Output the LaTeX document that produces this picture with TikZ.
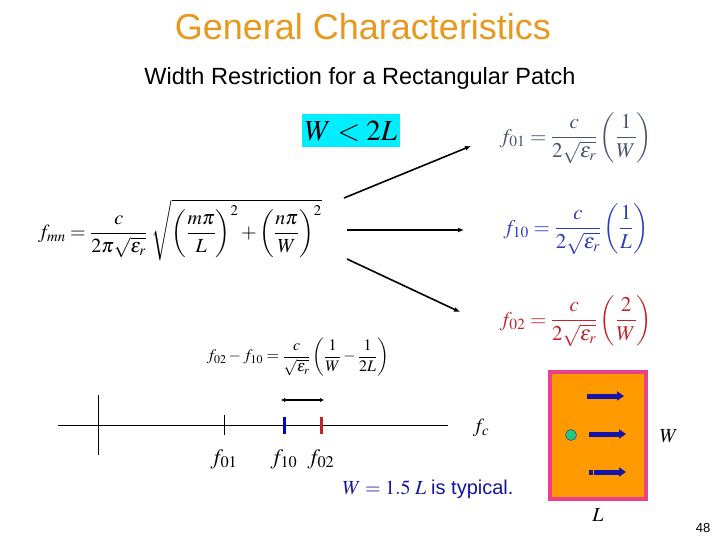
\documentclass[tikz,border=0pt]{standalone}
\usepackage{amsmath}
\usepackage{mathptmx}
\usepackage{fontspec}
\setmainfont{Liberation Serif}
\setsansfont{Liberation Sans}
\usetikzlibrary{arrows.meta}
\definecolor{titleorange}{RGB}{232,152,28}
\definecolor{condcyan}{RGB}{0,238,255}
\definecolor{fzo}{RGB}{70,82,110}
\definecolor{fonz}{RGB}{40,60,190}
\definecolor{fzt}{RGB}{195,35,40}
\definecolor{patchorange}{RGB}{255,153,0}
\definecolor{patchpink}{RGB}{236,64,138}
\definecolor{arrowblue}{RGB}{20,20,170}
\definecolor{feedgreen}{RGB}{30,200,140}
\definecolor{typblue}{RGB}{20,20,160}
\tikzset{
  formula/.style={inner sep=0pt, font=\fontsize{21}{24}\selectfont},
  pointer/.style={line width=1.6pt, -{Latex[length=6pt,width=5pt]}},
  axis/.style={line width=0.8pt},
  tick/.style={line width=0.8pt},
  band/.style={line width=3pt},
  flow/.style={arrowblue, line width=5pt, -{Triangle[length=7pt,width=9pt]}},
  axlabel/.style={inner sep=0pt, font=\fontsize{22}{24}\selectfont}
}
\begin{document}
\begin{tikzpicture}[x=1pt,y=-1pt]
\useasboundingbox (0,0) rectangle (720,540);
% titles
\node[text=titleorange, font=\sffamily\fontsize{36}{40}\selectfont] (title) at (363,27) {General Characteristics};
\node[font=\sffamily\fontsize{23.5}{27}\selectfont] (sub) at (360,78) {Width Restriction for a Rectangular Patch};
% condition
\node[fill=condcyan, minimum width=98pt, minimum height=33pt, inner sep=0pt, font=\fontsize{29}{30}\selectfont] (cond) at (351,131) {$W<2L$};
% general formula
\node[formula, font=\fontsize{20}{24}\selectfont] (fmn) at (180,230) {$f_{mn}=\dfrac{c}{2\pi\sqrt{\varepsilon_r}}\;\sqrt{\biggl(\dfrac{m\pi}{L}\biggr)^{2}+\biggl(\dfrac{n\pi}{W}\biggr)^{2}}$};
% mode formulas
\node[formula, text=fzo] (f01) at (576,138) {$f_{01}=\dfrac{c}{2\sqrt{\varepsilon_r}}\,\biggl(\dfrac{1}{W}\biggr)$};
\node[formula, text=fonz] (f10) at (576,229) {$f_{10}=\dfrac{c}{2\sqrt{\varepsilon_r}}\,\biggl(\dfrac{1}{L}\biggr)$};
\node[formula, text=fzt] (f02) at (576,321) {$f_{02}=\dfrac{c}{2\sqrt{\varepsilon_r}}\,\biggl(\dfrac{2}{W}\biggr)$};
% pointers
\coordinate (p1s) at (344,198); \coordinate (p1e) at (471,146);
\coordinate (p2s) at (347,230); \coordinate (p2e) at (464,230);
\coordinate (p3s) at (347,259); \coordinate (p3e) at (460,312);
\draw[pointer] (p1s) -- (p1e);
\draw[pointer] (p2s) -- (p2e);
\draw[pointer] (p3s) -- (p3e);
% difference formula
\node[formula, font=\fontsize{16}{19}\selectfont] (diff) at (298,357) {$f_{02}-f_{10}=\dfrac{c}{\sqrt{\varepsilon_r}}\,\biggl(\dfrac{1}{W}-\dfrac{1}{2L}\biggr)$};
% number line
\coordinate (axl) at (58,425); \coordinate (axr) at (448,425);
\coordinate (vt) at (98,395); \coordinate (vb) at (98,455);
\draw[axis] (axl) -- (axr);
\draw[axis] (vt) -- (vb);
\coordinate (t1t) at (224,415); \coordinate (t1b) at (224,435);
\draw[tick] (t1t) -- (t1b);
\coordinate (t2t) at (284,417); \coordinate (t2b) at (284,434);
\draw[band, blue!85!black] (t2t) -- (t2b);
\coordinate (t3t) at (321,417); \coordinate (t3b) at (321,434);
\draw[band, fzt] (t3t) -- (t3b);
\coordinate (dl) at (281,400); \coordinate (dr) at (324,400);
\draw[line width=1.5pt, {Latex[length=4pt,width=4.5pt]}-{Latex[length=4pt,width=4.5pt]}] (dl) -- (dr);
\node[axlabel] (l01) at (224,459) {$f_{\mathrm{01}}$};
\node[axlabel] (l10) at (284,459) {$f_{\mathrm{10}}$};
\node[axlabel] (l02) at (321,459) {$f_{\mathrm{02}}$};
\node[axlabel, font=\fontsize{20}{24}\selectfont] (lc) at (481,428) {$f_c$};
% patch
\node[draw=patchpink, line width=4pt, fill=patchorange, minimum width=96pt, minimum height=127pt, inner sep=0pt] (patch) at (598,435.5) {};
\coordinate (a1s) at (587,396); \coordinate (a1e) at (624,396);
\coordinate (a2s) at (589,434); \coordinate (a2e) at (626,434);
\coordinate (a3s) at (594,472); \coordinate (a3e) at (626,472);
\draw[flow] (a1s) -- (a1e);
\draw[flow] (a2s) -- (a2e);
\draw[flow] (a3s) -- (a3e);
\coordinate (a3d) at (589,472); \coordinate (a3f) at (592.5,472);
\draw[arrowblue, line width=5pt] (a3d) -- (a3f);
\node[circle, fill=feedgreen, draw=black!70, line width=0.6pt, minimum size=11pt, inner sep=0pt] (feed) at (571,435) {};
\node[font=\fontsize{20}{24}\selectfont] (lw) at (669,436) {$W$};
\node[font=\fontsize{20}{24}\selectfont] (ll) at (598,515) {$L$};
% note
\node[text=typblue, font=\fontsize{20}{24}\selectfont] (note) at (428,489) {$W=1.5\;L$ \sffamily is typical.};
\node[font=\sffamily\fontsize{13}{15}\selectfont] (page) at (703,528) {48};
\end{tikzpicture}
\end{document}
